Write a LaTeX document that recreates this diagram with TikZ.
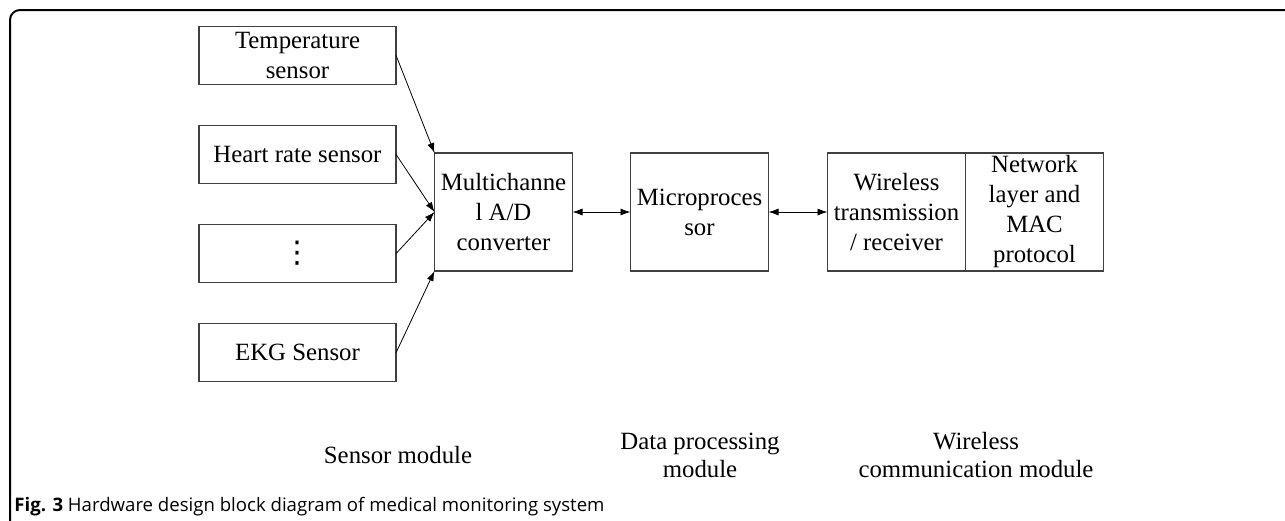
\documentclass[tikz,border=0pt]{standalone}
\usepackage{fontspec}
\setmainfont{Liberation Serif}
\newfontfamily\capfont{Open Sans}
\newfontfamily\symfont{DejaVu Sans}
\usetikzlibrary{matrix,positioning,arrows.meta}

\tikzset{
  block/.style={draw=black!75, line width=.6pt, inner sep=0pt, outer sep=0pt,
    align=center, font=\fontsize{12.4}{15}\selectfont},
  sensorbox/.style={block, minimum width=98.5pt, minimum height=29pt},
  unitbox/.style={block, minimum width=69pt, minimum height=59pt},
  modlabel/.style={align=center, font=\fontsize{12.4}{14}\selectfont},
}

\begin{document}
\begin{tikzpicture}[x=0.5pt,y=-0.5pt,>={Latex[length=5pt,width=3.5pt]}]
        \useasboundingbox (0,0) rectangle (1285,520);
        \draw[line width=1pt,rounded corners=5pt] (10,530) -- (10,10) -- (1295,10);

        \matrix (sensors) [%
          nodes={sensorbox},
          row sep=20pt,
          inner sep=0pt,
        ] at (297.5,204)
        {
          \node (temp) {Temperature\\sensor}; \\
          \node (heart) {Heart rate sensor};  \\
          \node (more) {{\symfont\fontsize{15}{15}\selectfont ⋮}}; \\
          \node (ekg) {EKG Sensor};           \\
        };

        \node[unitbox] (adc) at (503.5,212) {Multichanne\\l A/D\\converter};
        \node[unitbox, right=29pt of adc] (mcu) {Microproces\\sor};
        \node[unitbox, right=29.5pt of mcu] (radio) {Wireless\\transmission\\/ receiver};
        \node[unitbox, right=0pt of radio] (mac) {Network\\layer and\\MAC\\protocol};

        \draw[->, line width=.4pt] (temp.east) -- (adc.north west);
        \draw[->, line width=.4pt] (heart.east) -- (adc.west);
        \draw[->, line width=.4pt] (more.east) -- (adc.west);
        \draw[->, line width=.4pt] (ekg.east) -- (adc.south west);
        \draw[<->, line width=.4pt] (adc) -- (mcu);
        \draw[<->, line width=.4pt] (mcu) -- (radio);

        \node[modlabel] (sensorlbl) at (398,455) {Sensor module};
        \node[modlabel] (datalbl) at (700,455) {Data processing\\module};
        \node[modlabel] (radiolbl) at (976,455) {Wireless\\communication module};

        \node[anchor=base west, inner sep=0pt, font=\capfont\fontsize{9.3}{11}\selectfont] (caption) at (14,511)
          {\textbf{Fig. 3} Hardware design block diagram of medical monitoring system};
      \end{tikzpicture}
\end{document}
